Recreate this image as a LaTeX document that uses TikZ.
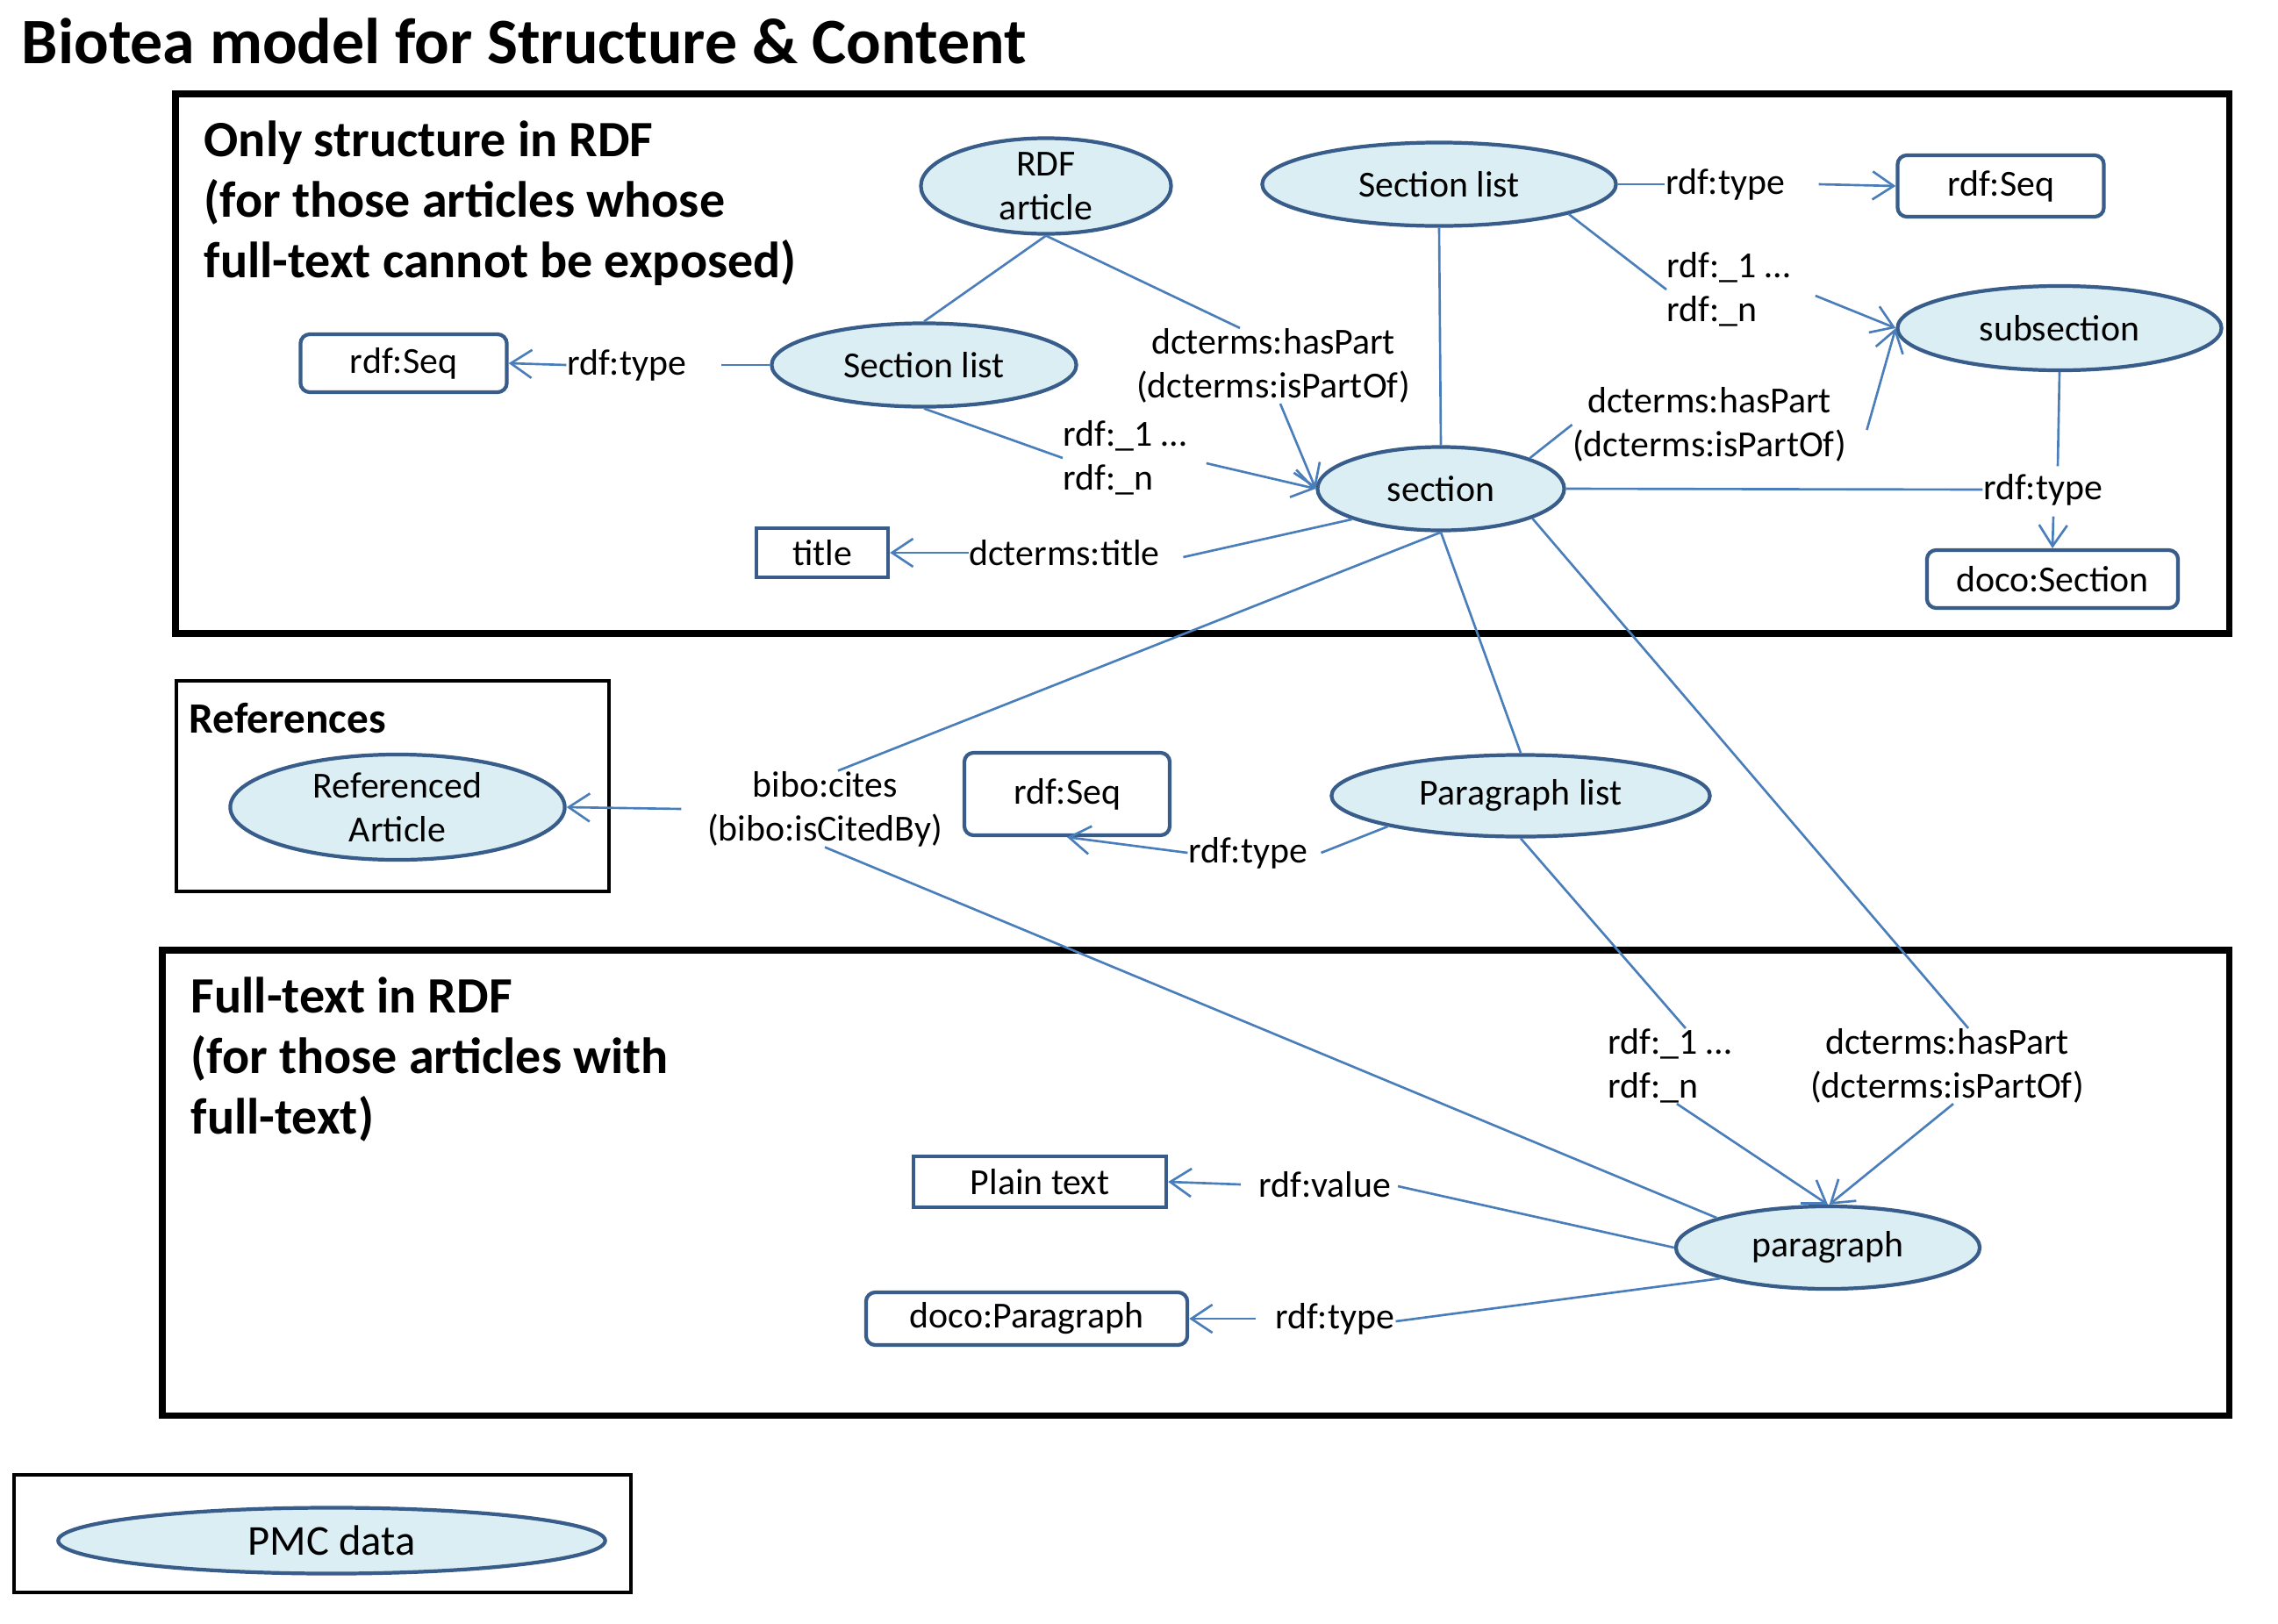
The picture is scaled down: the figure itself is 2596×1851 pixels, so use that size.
\documentclass[tikz,border=0pt]{standalone}
\usepackage{fontspec}
\setmainfont{Carlito}
\usetikzlibrary{shapes.geometric,arrows.meta,calc}
\definecolor{entfill}{HTML}{DBEEF4}
\definecolor{entline}{HTML}{385D8A}
\definecolor{conncol}{HTML}{4A7EBB}
\newcommand\lblfont{\fontsize{11.9}{14.2}\selectfont}
\newcommand\hdrfont{\fontsize{16.5}{19.6}\selectfont\bfseries}
\begin{document}
\begin{tikzpicture}[x=0.01cm,y=-0.01cm,
 ent/.style={ellipse, draw=entline, line width=1.2pt, fill=entfill, inner sep=0pt, align=center, font=\lblfont},
 rbox/.style={rectangle, rounded corners=3pt, draw=entline, line width=1.2pt, fill=white, inner sep=0pt, font=\lblfont},
 sbox/.style={rectangle, draw=entline, line width=1.2pt, fill=white, inner sep=0pt, font=\lblfont},
 lab/.style={inner sep=0pt, font=\lblfont, align=center},
 conn/.style={draw=conncol, line width=0.75pt},
 arr/.style={conn, -{Straight Barb[length=2.4mm, width=3.2mm]}},
 thickframe/.style={draw=black, line width=2pt},
 thinframe/.style={draw=black, line width=1pt}]
\useasboundingbox (0,0) rectangle (2596,1851);

% title and frames
\node[anchor=base west, inner sep=0pt, font=\fontsize{21}{25}\selectfont\bfseries] (ttl) at (24,72) {Biotea model for Structure \& Content};
\draw[thickframe] (200,107) rectangle (2540,722);
\draw[thinframe] (201,776) rectangle (694,1016);
\draw[thickframe] (185,1083) rectangle (2540,1613);
\draw[thinframe] (16,1681) rectangle (719,1815);

\node[anchor=north west, inner sep=0pt, align=left, font=\hdrfont] (hdrTop) at (232,137) {Only structure in RDF\\(for those articles whose\\full-text cannot be exposed)};
\node[anchor=base west, inner sep=0pt, font=\fontsize{14}{17}\selectfont\bfseries] (hdrRef) at (215,835) {References};
\node[anchor=north west, inner sep=0pt, align=left, font=\hdrfont] (hdrFull) at (217,1113) {Full-text in RDF\\(for those articles with\\full-text)};

% entities
\node[ent, minimum width=2.85cm, minimum height=0.96cm] (artRDF) at (1192,212) {RDF\\article};
\node[ent, minimum width=4.03cm, minimum height=0.95cm] (slTop) at (1640,210) {Section list};
\node[rbox, minimum width=2.35cm, minimum height=0.70cm] (seqTR) at (2280,212) {rdf:Seq};
\node[ent, minimum width=3.47cm, minimum height=0.95cm] (slLeft) at (1053,416) {Section list};
\node[rbox, minimum width=2.35cm, minimum height=0.66cm] (seqL) at (460,414) {rdf:Seq};
\node[ent, minimum width=3.69cm, minimum height=0.96cm] (subsec) at (2347,374) {subsection};
\node[ent, minimum width=2.81cm, minimum height=0.95cm] (sec) at (1642,557) {section};
\node[sbox, minimum width=1.50cm, minimum height=0.56cm] (title) at (937,630) {title};
\node[rbox, minimum width=2.86cm, minimum height=0.66cm] (docoSec) at (2339,660) {doco:Section};
\node[ent, minimum width=3.81cm, minimum height=1.20cm] (refArt) at (453,920) {Referenced\\Article};
\node[rbox, minimum width=2.34cm, minimum height=0.94cm] (seqM) at (1216,905) {rdf:Seq};
\node[ent, minimum width=4.31cm, minimum height=0.93cm] (plist) at (1733,907) {Paragraph list};
\node[sbox, minimum width=2.88cm, minimum height=0.58cm] (plain) at (1185,1347) {Plain text};
\node[ent, minimum width=3.46cm, minimum height=0.94cm] (para) at (2083,1422) {paragraph};
\node[rbox, minimum width=3.66cm, minimum height=0.60cm] (docoPara) at (1170,1503) {doco:Paragraph};
\node[ent, minimum width=6.23cm, minimum height=0.75cm, font=\fontsize{13.8}{16}\selectfont] (pmc) at (378,1756) {PMC data};

% edge labels
\node[lab] (lrtTR) at (1966,210) {rdf:type};
\node[lab, anchor=west, align=left] (lrnTR) at (1899,330) {rdf:\_1 …\\rdf:\_n};
\node[lab] (lrtL) at (714,416) {rdf:type};
\node[lab] (lhp1) at (1451,417) {dcterms:hasPart\\(dcterms:isPartOf)};
\node[lab, anchor=west, align=left] (lrnM) at (1211,522) {rdf:\_1 …\\rdf:\_n};
\node[lab] (lhpR) at (1948,484) {dcterms:hasPart\\(dcterms:isPartOf)};
\node[lab] (lrtR) at (2328,558) {rdf:type};
\node[lab] (ldt) at (1213,630) {dcterms:title};
\node[lab] (lbc) at (940,922) {bibo:cites\\(bibo:isCitedBy)};
\node[lab] (lrtM) at (1422,972) {rdf:type};
\node[lab, anchor=west, align=left] (lrnL) at (1832,1215) {rdf:\_1 …\\rdf:\_n};
\node[lab] (lhpL) at (2219,1215) {dcterms:hasPart\\(dcterms:isPartOf)};
\node[lab] (lrv) at (1510,1350) {rdf:value};
\node[lab] (lrtB) at (1521,1503) {rdf:type};

% connectors
\draw[conn] (artRDF.south) -- (slLeft.north);
\draw[conn] (artRDF.south) -- ($(lhp1.north)+(-38,0)$);
\draw[arr] ($(lhp1.south)+(8,0)$) -- (sec.west);
\draw[conn] (slLeft.west) -- ($(lrtL.east)+(39,0)$);
\draw[arr] (lrtL.west) -- (seqL.east);
\draw[conn] (slLeft.south) -- (lrnM.west);
\draw[arr] ($(lrnM.east)+(22,6)$) -- (sec.west);

\draw[conn] (slTop.east) -- (lrtTR.west);
\draw[arr] ($(lrtTR.east)+(38,0)$) -- (seqTR.west);
\draw[conn] (slTop.-13) -- (lrnTR.west);
\draw[arr] ($(lrnTR.east)+(28,7)$) -- (subsec.west);
\draw[conn] (slTop.south) -- (sec.north);
\draw[conn] (sec.19) -- (lhpR.west);
\draw[arr] ($(lhpR.east)+(23,6)$) -- (subsec.west);
\draw[conn] (sec.east) -- (lrtR.west);
\draw[conn] (subsec.south) -- ($(lrtR.north)+(17,-8)$);
\draw[arr] ($(lrtR.south)+(12,12)$) -- (docoSec.north);
\draw[conn] (sec.199) -- ($(ldt.east)+(26,5)$);
\draw[arr] (ldt.west) -- (title.east);

\draw[conn] (sec.south) -- ($(lbc.north)+(15,0)$);
\draw[arr] ($(lbc.west)+(-29,0)$) -- (refArt.east);
\draw[conn] (lbc.south) -- (para.165);
\draw[conn] (sec.south) -- (plist.north);
\draw[conn] (sec.-18) -- ($(lhpL.north)+(24,0)$);
\draw[arr] ($(lhpL.south)+(7,0)$) -- (para.88);
\draw[conn] (plist.south) -- ($(lrnL.north)+(18,0)$);
\draw[arr] ($(lrnL.south)+(8,0)$) -- (para.north);
\draw[conn] (plist.193) -- ($(lrtM.east)+(15,0)$);
\draw[arr] (lrtM.west) -- (seqM.south);
\draw[conn] (para.west) -- ($(lrv.east)+(7,2)$);
\draw[arr] ($(lrv.west)+(-20,0)$) -- (plain.east);
\draw[conn] (para.196) -- ($(lrtB.east)+(1,3)$);
\draw[arr] ($(lrtB.west)+(-21,0)$) -- (docoPara.east);
\end{tikzpicture}
\end{document}
